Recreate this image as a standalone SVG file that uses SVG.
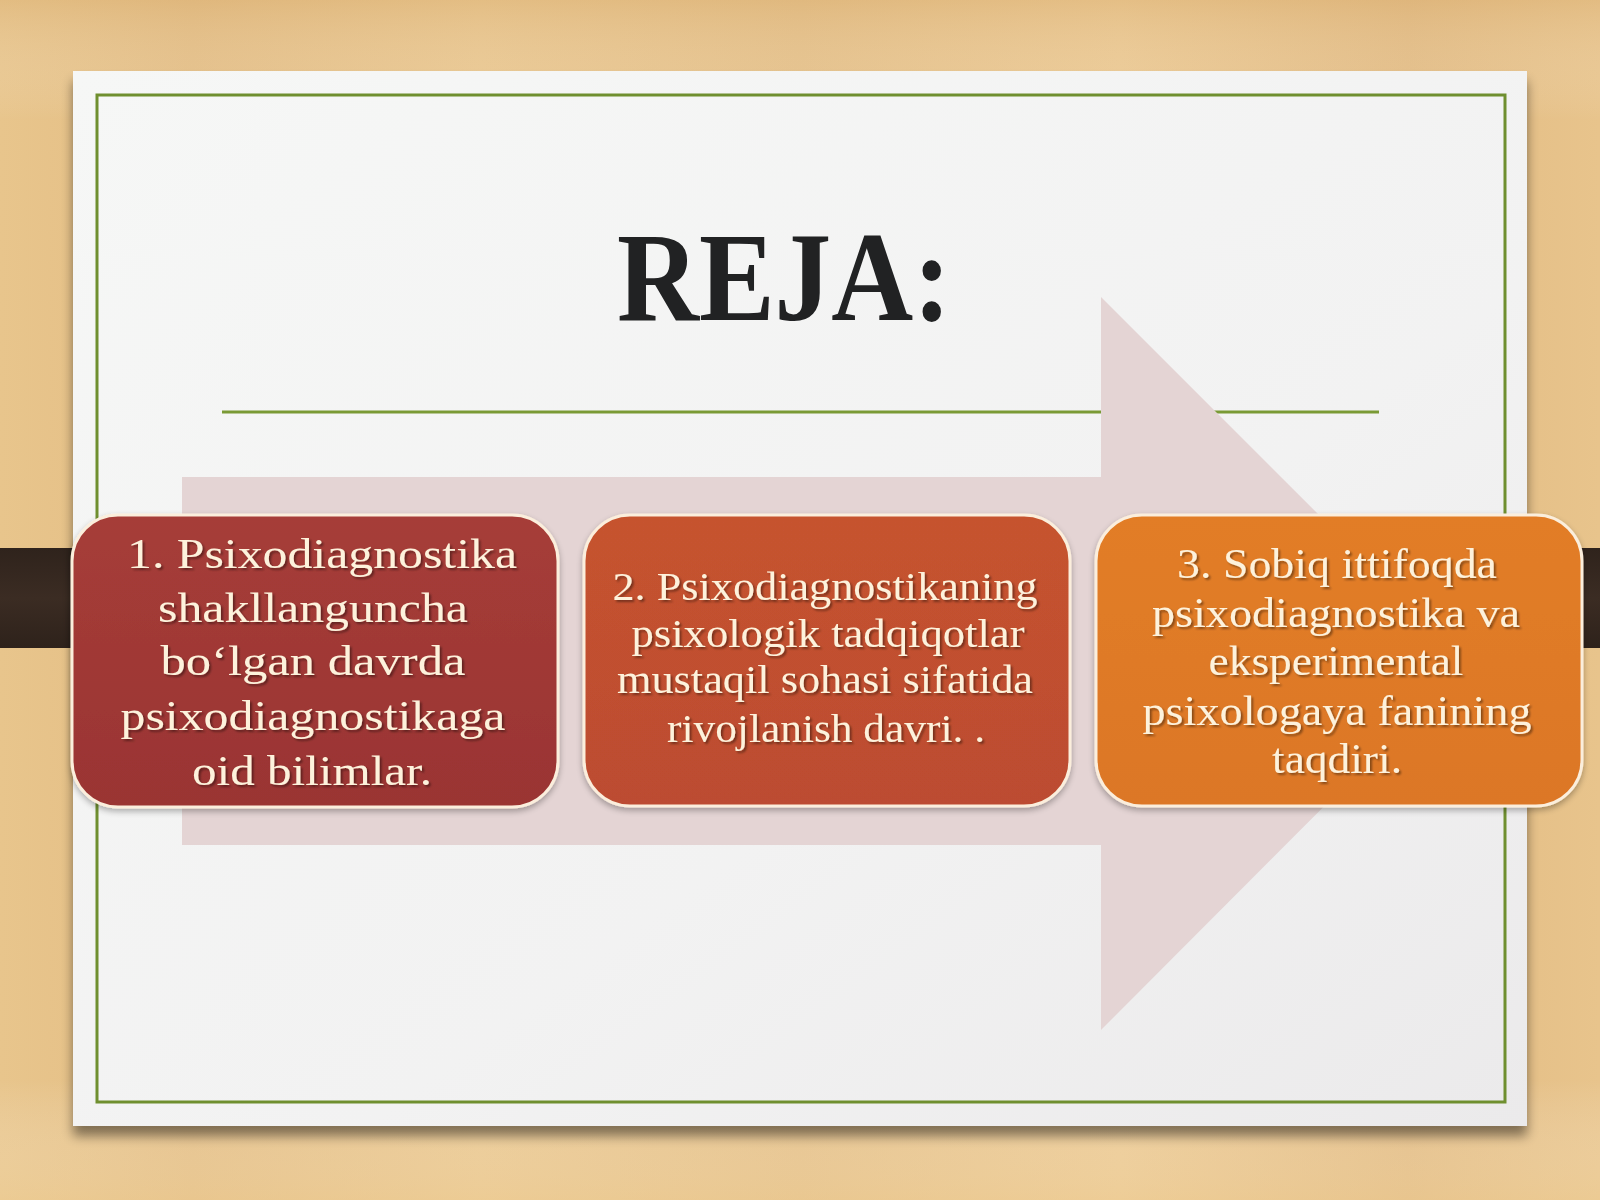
<svg xmlns="http://www.w3.org/2000/svg" width="1600" height="1200" viewBox="0 0 1600 1200">
  <defs>
    <linearGradient id="wood" x1="0" y1="0" x2="1" y2="0">
      <stop offset="0" stop-color="#e8c58c"/>
      <stop offset="0.12" stop-color="#e3bd84"/>
      <stop offset="0.3" stop-color="#e9c68e"/>
      <stop offset="0.5" stop-color="#e4bf87"/>
      <stop offset="0.7" stop-color="#ebc891"/>
      <stop offset="0.88" stop-color="#e2bb83"/>
      <stop offset="1" stop-color="#e8c48c"/>
    </linearGradient>
    <linearGradient id="woodV" x1="0" y1="0" x2="0" y2="1">
      <stop offset="0" stop-color="#d9ad70" stop-opacity="0.35"/>
      <stop offset="0.1" stop-color="#ffffff" stop-opacity="0"/>
      <stop offset="0.9" stop-color="#ffffff" stop-opacity="0"/>
      <stop offset="1" stop-color="#f2d49e" stop-opacity="0.4"/>
    </linearGradient>
    <linearGradient id="bar" x1="0" y1="0" x2="0" y2="1">
      <stop offset="0" stop-color="#2f231c"/>
      <stop offset="0.5" stop-color="#3b2c23"/>
      <stop offset="1" stop-color="#2e221b"/>
    </linearGradient>
    <linearGradient id="slideBg" x1="0" y1="0" x2="1" y2="1">
      <stop offset="0" stop-color="#f6f7f6"/>
      <stop offset="0.6" stop-color="#f2f2f2"/>
      <stop offset="1" stop-color="#ebeaeb"/>
    </linearGradient>
    <linearGradient id="g1" x1="0" y1="0" x2="0" y2="1">
      <stop offset="0" stop-color="#a63d38"/>
      <stop offset="1" stop-color="#9a3433"/>
    </linearGradient>
    <linearGradient id="g2" x1="0" y1="0" x2="0" y2="1">
      <stop offset="0" stop-color="#c6532f"/>
      <stop offset="1" stop-color="#bc4c30"/>
    </linearGradient>
    <linearGradient id="g3" x1="0" y1="0" x2="0" y2="1">
      <stop offset="0" stop-color="#e27d26"/>
      <stop offset="1" stop-color="#dc7727"/>
    </linearGradient>
    <filter id="slideShadow" x="-5%" y="-5%" width="110%" height="112%">
      <feGaussianBlur in="SourceAlpha" stdDeviation="6"/>
      <feOffset dx="0" dy="10"/>
      <feComponentTransfer><feFuncA type="linear" slope="0.45"/></feComponentTransfer>
      <feMerge><feMergeNode/><feMergeNode in="SourceGraphic"/></feMerge>
    </filter>
    <filter id="boxShadow" x="-5%" y="-5%" width="110%" height="115%">
      <feGaussianBlur in="SourceAlpha" stdDeviation="3"/>
      <feOffset dx="0" dy="3"/>
      <feComponentTransfer><feFuncA type="linear" slope="0.3"/></feComponentTransfer>
      <feMerge><feMergeNode/><feMergeNode in="SourceGraphic"/></feMerge>
    </filter>
    <filter id="textShadow" x="-5%" y="-20%" width="110%" height="140%">
      <feGaussianBlur in="SourceAlpha" stdDeviation="1"/>
      <feOffset dx="2" dy="2"/>
      <feComponentTransfer><feFuncA type="linear" slope="0.4"/></feComponentTransfer>
      <feMerge><feMergeNode/><feMergeNode in="SourceGraphic"/></feMerge>
    </filter>
  </defs>
  <style>
    .box { stroke: #fbeedc; stroke-width: 3; }
    .lbl { font-family: "Liberation Serif", "Times New Roman", serif; fill: #fdf2dc; text-anchor: middle; }
    .b1 { font-size: 43px; }
    .b2 { font-size: 39px; }
    .b3 { font-size: 42px; }
    .title { font-family: "Liberation Serif", "Times New Roman", serif; font-weight: bold; font-size: 128px; fill: #212223; text-anchor: middle; }
  </style>

  <!-- wooden background -->
  <rect x="0" y="0" width="1600" height="1200" fill="url(#wood)"/>
  <rect x="0" y="0" width="1600" height="1200" fill="url(#woodV)"/>
  <rect x="0" y="548" width="1600" height="100" fill="url(#bar)"/>

  <!-- slide -->
  <g id="slide">
    <rect x="73" y="71" width="1454" height="1055" fill="url(#slideBg)" filter="url(#slideShadow)"/>
    <rect x="97" y="95" width="1408" height="1007" fill="none" stroke="#6f8f2f" stroke-width="3"/>
    <line x1="222" y1="412" x2="1379" y2="412" stroke="#7a9a35" stroke-width="3"/>
    <text id="title" class="title" x="784" y="320" textLength="334" lengthAdjust="spacingAndGlyphs">REJA:</text>
  </g>

  <!-- big process arrow -->
  <g id="connectors">
    <polygon points="182,477 1101,477 1101,297 1467,663 1101,1030 1101,845 182,845" fill="#e4d4d4"/>
  </g>

  <g id="node1" filter="url(#boxShadow)">
    <rect class="box" x="72" y="515" width="486" height="292" rx="46" ry="46" fill="url(#g1)"/>
    <g filter="url(#textShadow)">
      <text class="lbl b1" x="322" y="568" textLength="390" lengthAdjust="spacingAndGlyphs">1. Psixodiagnostika</text>
      <text class="lbl b1" x="313" y="622" textLength="310" lengthAdjust="spacingAndGlyphs">shakllanguncha</text>
      <text class="lbl b1" x="313" y="675" textLength="305" lengthAdjust="spacingAndGlyphs">bo‘lgan davrda</text>
      <text class="lbl b1" x="313" y="730" textLength="385" lengthAdjust="spacingAndGlyphs">psixodiagnostikaga</text>
      <text class="lbl b1" x="312" y="785" textLength="240" lengthAdjust="spacingAndGlyphs">oid bilimlar.</text>
    </g>
  </g>

  <g id="node2" filter="url(#boxShadow)">
    <rect class="box" x="584" y="515" width="486" height="291" rx="46" ry="46" fill="url(#g2)"/>
    <g filter="url(#textShadow)">
      <text class="lbl b2" x="825" y="600" textLength="425" lengthAdjust="spacingAndGlyphs">2. Psixodiagnostikaning</text>
      <text class="lbl b2" x="828" y="647" textLength="393" lengthAdjust="spacingAndGlyphs">psixologik tadqiqotlar</text>
      <text class="lbl b2" x="825" y="693" textLength="416" lengthAdjust="spacingAndGlyphs">mustaqil sohasi sifatida</text>
      <text class="lbl b2" x="826" y="742" textLength="318" lengthAdjust="spacingAndGlyphs">rivojlanish davri. .</text>
    </g>
  </g>

  <g id="node3" filter="url(#boxShadow)">
    <rect class="box" x="1096" y="515" width="486" height="291" rx="46" ry="46" fill="url(#g3)"/>
    <g filter="url(#textShadow)">
      <text class="lbl b3" x="1337" y="578" textLength="320" lengthAdjust="spacingAndGlyphs">3. Sobiq ittifoqda</text>
      <text class="lbl b3" x="1336" y="627" textLength="368" lengthAdjust="spacingAndGlyphs">psixodiagnostika  va</text>
      <text class="lbl b3" x="1336" y="675" textLength="255" lengthAdjust="spacingAndGlyphs">eksperimental</text>
      <text class="lbl b3" x="1337" y="725" textLength="389" lengthAdjust="spacingAndGlyphs">psixologaya fanining</text>
      <text class="lbl b3" x="1337" y="773" textLength="130" lengthAdjust="spacingAndGlyphs">taqdiri.</text>
    </g>
  </g>
</svg>
